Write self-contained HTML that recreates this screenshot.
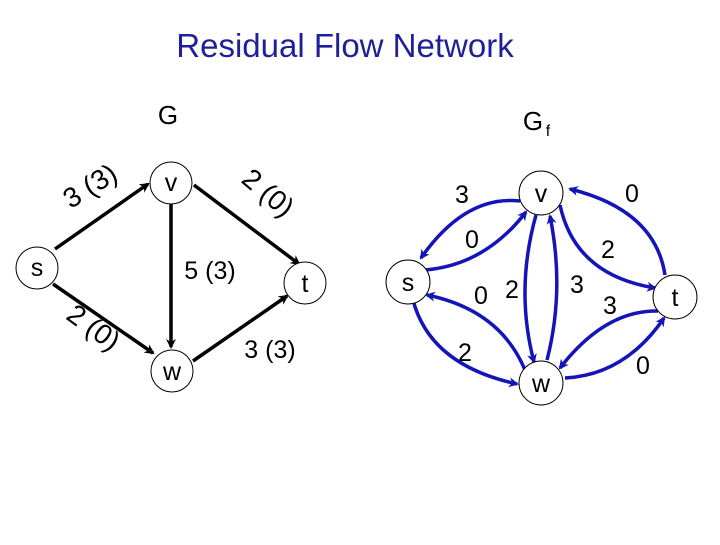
<!DOCTYPE html>
<html><head><meta charset="utf-8"><style>
body{margin:0;background:#fff}
svg text{font-family:"Liberation Sans","DejaVu Sans",sans-serif}
</style></head><body>
<svg width="720" height="540" viewBox="0 0 720 540" xmlns="http://www.w3.org/2000/svg">
<defs>
<marker id="ak" markerWidth="10" markerHeight="10" refX="8" refY="5" orient="auto" markerUnits="userSpaceOnUse" viewBox="0 0 10 10"><path d="M0,0 L10,5 L0,10 L3,5 Z" fill="#000"/></marker>
<marker id="ab" markerWidth="10" markerHeight="10" refX="8" refY="5" orient="auto" markerUnits="userSpaceOnUse" viewBox="0 0 10 10"><path d="M0,0 L10,5 L0,10 L3,5 Z" fill="#1414b8"/></marker>
</defs>
<text x="345" y="57" font-size="33" fill="#1f1f9a" text-anchor="middle">Residual Flow Network</text>
<text x="168" y="124" font-size="26" text-anchor="middle">G</text>
<text x="533" y="130" font-size="26" text-anchor="middle">G</text>
<text x="548" y="136" font-size="16" text-anchor="middle">f</text>
<g stroke="#000" stroke-width="3.5" fill="none" marker-end="url(#ak)">
<line x1="55" y1="249" x2="148" y2="184"/>
<line x1="194" y1="185" x2="299" y2="264"/>
<line x1="171" y1="204" x2="171" y2="347"/>
<line x1="53" y1="284" x2="153" y2="353"/>
<line x1="193" y1="361" x2="287" y2="296"/>
</g>
<g fill="#fff" stroke="#000" stroke-width="1">
<circle cx="37" cy="268" r="21"/><circle cx="171" cy="183" r="21"/><circle cx="305" cy="283" r="21"/><circle cx="172" cy="371" r="21"/>
</g>
<g font-size="25" text-anchor="middle">
<text x="37" y="276">s</text><text x="171" y="191">v</text><text x="305" y="292">t</text><text x="172" y="380">w</text>
<text transform="translate(95,194) rotate(-32)" font-size="28">3 (3)</text>
<text transform="translate(262,200) rotate(40)" font-size="28">2 (0)</text>
<text x="210" y="279">5 (3)</text>
<text transform="translate(88,335) rotate(36)" font-size="28">2 (0)</text>
<text x="270" y="358">3 (3)</text>
</g>
<g stroke="#1414b8" stroke-width="3.5" fill="none" marker-end="url(#ab)">
<path d="M520,201 Q465,195 421,258"/>
<path d="M425,270 Q485,265 526,212"/>
<path d="M525,370 Q500,310 427,295"/>
<path d="M413,300 Q430,365 517,384"/>
<path d="M536,215 Q515,290 534,362"/>
<path d="M547,360 Q565,290 550,216"/>
<path d="M560,205 Q575,275 655,288"/>
<path d="M665,275 Q655,210 570,189"/>
<path d="M658,311 Q605,310 560,368"/>
<path d="M565,378 Q625,375 664,318"/>
</g>
<g fill="#fff" stroke="#000" stroke-width="1">
<circle cx="408" cy="282" r="22"/><circle cx="541" cy="193" r="22"/><circle cx="675" cy="297" r="22"/><circle cx="541" cy="383" r="22"/>
</g>
<g font-size="25" text-anchor="middle">
<text x="408" y="291">s</text><text x="541" y="202">v</text><text x="675" y="306">t</text><text x="541" y="392">w</text>
<text x="462" y="203">3</text><text x="472" y="248">0</text><text x="481" y="304">0</text>
<text x="512" y="298">2</text><text x="577" y="293">3</text><text x="608" y="258">2</text>
<text x="632" y="202">0</text><text x="610" y="314">3</text><text x="643" y="374">0</text>
<text x="465" y="361">2</text>
</g>
</svg>
</body></html>
